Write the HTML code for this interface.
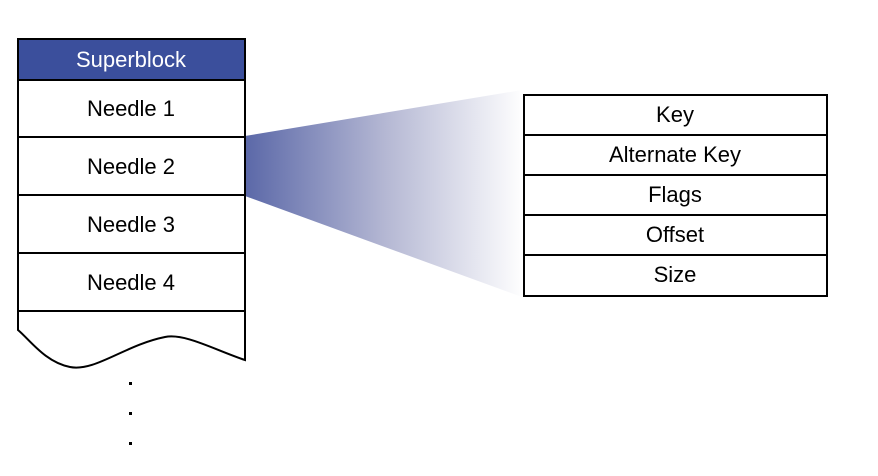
<!DOCTYPE html>
<html><head><meta charset="utf-8"><style>
html,body{margin:0;padding:0;background:#fff;}
svg{display:block}
text{font-family:"Liberation Sans",Arial,sans-serif;font-size:22px;fill:#000;text-anchor:middle}
</style></head><body>
<svg width="878" height="476" viewBox="0 0 878 476" xmlns="http://www.w3.org/2000/svg">
<defs>
<linearGradient id="g" x1="245" y1="0" x2="524" y2="0" gradientUnits="userSpaceOnUse">
<stop offset="0" stop-color="#5b68a8"/>
<stop offset="0.5" stop-color="#b4b7d3"/>
<stop offset="1" stop-color="#ffffff"/>
</linearGradient>
</defs>
<polygon points="245,136 522,90 522,297 245,196" fill="url(#g)"/>
<rect x="18" y="39" width="227" height="41" fill="#3b4f9c"/>
<g fill="none" stroke="#000" stroke-width="2">
<path d="M18,39 H245 V360 C215,350 185,333 165,337 C125,345 95,372 70,367 C45,362 30,340 18,330 Z"/>
<line x1="18" y1="80" x2="245" y2="80"/>
<line x1="18" y1="137" x2="245" y2="137"/>
<line x1="18" y1="195" x2="245" y2="195"/>
<line x1="18" y1="253" x2="245" y2="253"/>
<line x1="18" y1="311" x2="245" y2="311"/>
<rect x="524" y="95" width="303" height="201"/>
<line x1="524" y1="135" x2="827" y2="135"/>
<line x1="524" y1="175" x2="827" y2="175"/>
<line x1="524" y1="215" x2="827" y2="215"/>
<line x1="524" y1="255" x2="827" y2="255"/>
</g>
<text x="131" y="67" style="fill:#fff">Superblock</text>
<text x="131" y="116">Needle 1</text>
<text x="131" y="174">Needle 2</text>
<text x="131" y="232">Needle 3</text>
<text x="131" y="290">Needle 4</text>
<text x="675" y="122">Key</text>
<text x="675" y="162">Alternate Key</text>
<text x="675" y="202">Flags</text>
<text x="675" y="242">Offset</text>
<text x="675" y="282">Size</text>
<rect x="129" y="382" width="3" height="3" fill="#000"/>
<rect x="129" y="412" width="3" height="3" fill="#000"/>
<rect x="129" y="442" width="3" height="3" fill="#000"/>
</svg>
</body></html>
